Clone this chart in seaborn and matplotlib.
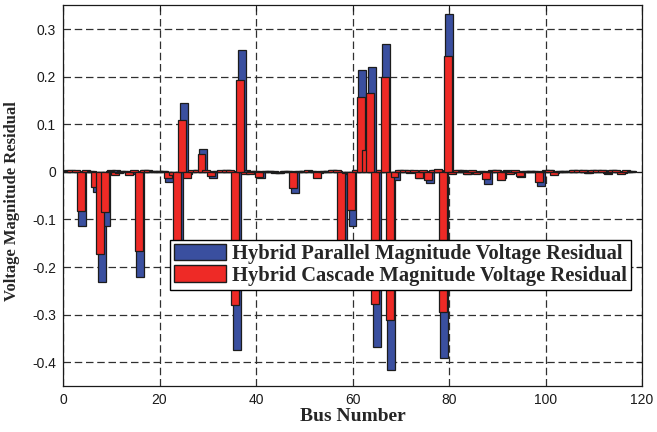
import matplotlib
matplotlib.use("Agg")
import matplotlib.pyplot as plt
from matplotlib.patches import Patch
from matplotlib.ticker import FuncFormatter, MultipleLocator
import pandas as pd
import seaborn as sns

# IEEE 118-bus system: voltage magnitude residual per bus
bus = list(range(1, 119))

parallel = [
    0.003, 0.002, 0.001, -0.113, 0.002, 0.001, -0.043, -0.231, -0.113, 0.004,
    0.005, 0.002, 0.001, -0.004, 0.002, -0.220, 0.003, 0.002, 0.001, 0.001,
    0.002, -0.022, -0.004, -0.210, 0.145, -0.005, 0.002, 0.003, 0.048, 0.002,
    -0.013, 0.001, 0.002, 0.003, 0.002, -0.375, 0.257, 0.003, 0.002, 0.001,
    -0.012, 0.001, 0.001, -0.002, -0.003, 0.002, 0.001, -0.044, 0.002, 0.001,
    0.002, 0.001, -0.003, 0.001, 0.002, 0.003, 0.002, -0.200, -0.004, -0.113,
    0.003, 0.214, 0.050, 0.221, -0.368, 0.004, 0.268, -0.417, -0.017, 0.003,
    0.002, -0.003, 0.002, -0.012, 0.002, -0.023, 0.004, 0.005, -0.391, 0.331,
    0.002, 0.004, 0.003, -0.004, 0.002, -0.003, 0.002, -0.026, 0.003, 0.004,
    -0.013, 0.003, -0.003, 0.002, -0.010, 0.001, 0.002, 0.002, -0.029, 0.003,
    0.004, -0.003, 0.002, 0.001, 0.002, 0.003, 0.002, 0.004, -0.002, 0.003,
    0.002, 0.003, -0.004, 0.003, 0.002, -0.003, 0.002, 0.001,
]

cascade = [
    0.002, 0.003, 0.003, -0.083, 0.003, 0.002, -0.031, -0.173, -0.085, 0.002,
    -0.007, -0.003, 0.002, -0.006, 0.003, -0.166, 0.004, 0.004, 0.002, 0.001,
    0.001, -0.012, -0.006, -0.200, 0.110, -0.012, 0.003, 0.004, 0.037, 0.003,
    -0.008, 0.002, 0.004, 0.004, 0.003, -0.280, 0.194, -0.005, -0.004, 0.002,
    -0.010, 0.002, 0.001, 0.001, -0.002, 0.001, 0.002, -0.034, 0.001, 0.002,
    0.003, 0.002, -0.013, 0.002, 0.001, 0.004, 0.003, -0.220, -0.003, -0.080,
    0.004, 0.158, 0.046, 0.165, -0.277, 0.005, 0.200, -0.311, -0.011, 0.004,
    0.003, 0.004, 0.005, -0.013, 0.003, -0.017, 0.005, 0.006, -0.294, 0.243,
    -0.005, 0.003, 0.002, -0.005, 0.003, -0.005, 0.001, -0.015, 0.002, 0.003,
    -0.016, 0.002, -0.005, 0.004, -0.009, 0.002, 0.001, 0.001, -0.022, 0.002,
    0.003, -0.006, 0.001, 0.002, 0.001, 0.004, 0.003, 0.003, -0.003, 0.004,
    0.003, 0.004, -0.003, 0.004, 0.003, -0.004, 0.003, 0.002,
]

series_labels = [
    "Hybrid Parallel Magnitude Voltage Residual",
    "Hybrid Cascade Magnitude Voltage Residual",
]

BLUE = "#3a4f9f"
RED = "#ee2a26"
EDGE = "#1c1c1c"

sns.set_style("white")
plt.rcParams["font.family"] = ["Liberation Sans", "DejaVu Sans"]

df = pd.DataFrame({"bus": bus, "parallel": parallel, "cascade": cascade})
# the cascade bars sit slightly to the left of the parallel bars
df["x_parallel"] = df["bus"].astype(float)
df["x_cascade"] = df["bus"] - 0.3

fig = plt.figure(figsize=(6.57, 4.32), dpi=100)
ax = fig.add_axes([0.0959, 0.1065, 0.8813, 0.881])

bar_kw = dict(orient="x", native_scale=True, errorbar=None, saturation=1,
              width=1.65, edgecolor=EDGE, linewidth=0.9, ax=ax)
sns.barplot(data=df, x="x_parallel", y="parallel", color=BLUE, **bar_kw)
sns.barplot(data=df, x="x_cascade", y="cascade", color=RED, **bar_kw)

ax.set_xlim(0, 120)
ax.set_ylim(-0.45, 0.35)
ax.xaxis.set_major_locator(MultipleLocator(20))
ax.yaxis.set_major_locator(MultipleLocator(0.1))
ax.yaxis.set_major_formatter(FuncFormatter(lambda v, p: f"{round(v, 2):g}"))
ax.xaxis.set_major_formatter(FuncFormatter(lambda v, p: f"{v:g}"))

ax.set_axisbelow(True)
ax.grid(True, color="#303030", linestyle=(0, (6, 3)), linewidth=0.9)
ax.tick_params(direction="in", top=True, right=True, length=4, width=0.8,
               labelsize=10, pad=5, colors="#1a1a1a")
for s in ax.spines.values():
    s.set_color("#1a1a1a")
    s.set_linewidth(0.9)

serif = ["Liberation Serif", "DejaVu Serif"]
ax.set_xlabel("Bus Number", family=serif, weight="bold", fontsize=14)
ax.set_ylabel("Voltage Magnitude Residual", family=serif, weight="bold",
              fontsize=12)
ax.xaxis.set_label_coords(0.5, -0.058)
ax.yaxis.set_label_coords(-0.074, 0.485)

handles = [Patch(facecolor=BLUE, edgecolor=EDGE, linewidth=1),
           Patch(facecolor=RED, edgecolor=EDGE, linewidth=1)]
leg = ax.legend(handles, series_labels, loc="upper left",
                bbox_to_anchor=(0.185, 0.384), frameon=True, fancybox=False,
                edgecolor="black", framealpha=1,
                prop=dict(family=serif, weight="bold", size=14.8),
                handlelength=2.5, handleheight=0.85, handletextpad=0.3,
                labelspacing=0.05, borderpad=0.2, borderaxespad=0)
leg.get_frame().set_linewidth(1)

fig.savefig("out.png", dpi=100)
